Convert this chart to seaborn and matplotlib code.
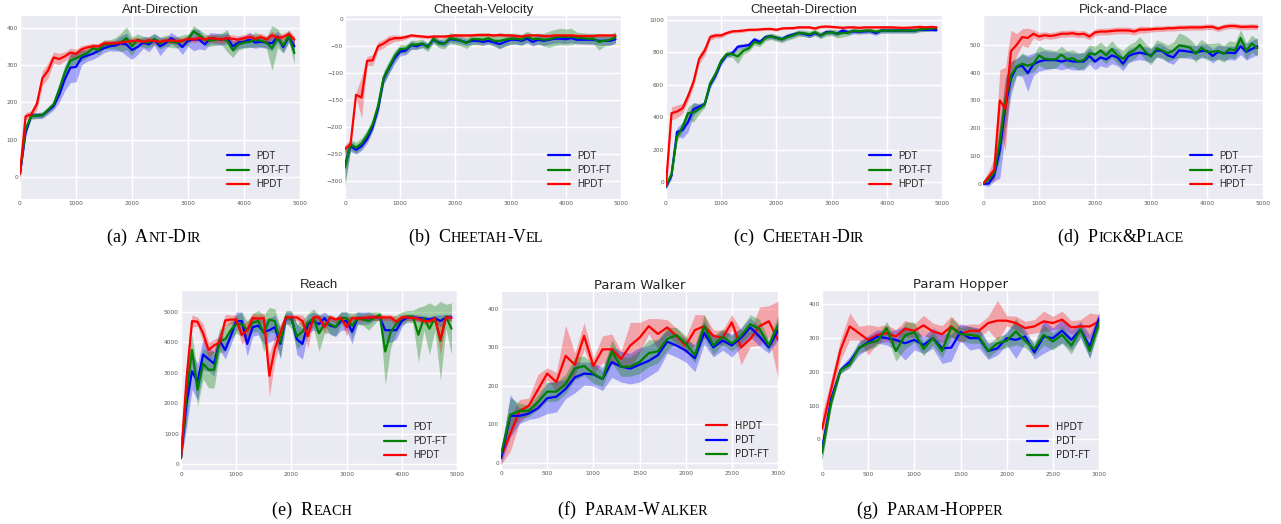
import numpy as np
import matplotlib
matplotlib.use("Agg")
import matplotlib.pyplot as plt
import seaborn as sns

# x positions (training steps)
steps_5k = np.arange(0, 5000, 100)
steps_3k = np.arange(0, 3100, 100)

# ---- Ant-Direction ----
ant_hpdt = [10, 163, 168, 195, 265, 285, 320, 316, 323, 333,
            330, 342, 347, 350, 350, 358, 358, 358, 360, 362,
            364, 366, 362, 366, 364, 362, 365, 366, 364, 365,
            370, 368, 372, 368, 372, 370, 368, 372, 370, 368,
            372, 375, 370, 375, 368, 380, 372, 375, 383, 368]
ant_pdt = [10, 120, 165, 165, 166, 178, 190, 220, 262, 293,
           295, 320, 325, 330, 338, 345, 350, 352, 358, 355,
           340, 348, 360, 355, 368, 350, 358, 372, 362, 348,
           365, 368, 368, 355, 372, 370, 368, 372, 350, 360,
           362, 368, 360, 362, 360, 358, 375, 348, 375, 350]
ant_pdtft = [10, 130, 163, 165, 166, 180, 195, 235, 280, 312,
             318, 325, 332, 345, 340, 355, 355, 358, 360, 372,
             350, 368, 362, 360, 370, 358, 365, 362, 360, 365,
             368, 390, 380, 368, 365, 368, 370, 365, 340, 355,
             360, 362, 368, 365, 360, 345, 372, 352, 378, 332]
ant_hpdt_sd = [25, 10, 10, 15, 20, 20, 15, 15, 12, 12,
               12, 10, 8, 8, 8, 8, 8, 8, 8, 8,
               8, 8, 8, 8, 8, 8, 8, 8, 8, 8,
               8, 8, 10, 10, 10, 10, 10, 10, 10, 10,
               10, 10, 10, 10, 10, 10, 10, 10, 10, 10]
ant_pdt_sd = [10, 10, 8, 8, 8, 10, 10, 20, 30, 40,
              40, 20, 15, 15, 15, 12, 12, 15, 20, 30,
              25, 20, 15, 20, 15, 25, 15, 15, 15, 20,
              15, 30, 25, 15, 15, 15, 15, 15, 15, 15,
              15, 20, 15, 15, 15, 20, 15, 15, 15, 20]
ant_pdtft_sd = [10, 10, 8, 8, 8, 8, 10, 15, 20, 15,
                15, 15, 12, 12, 12, 12, 12, 15, 25, 30,
                25, 15, 15, 15, 15, 15, 15, 15, 15, 15,
                15, 15, 15, 15, 15, 15, 15, 30, 20, 15,
                15, 15, 20, 15, 15, 60, 25, 20, 15, 30]

# ---- Cheetah-Velocity ----
vel_hpdt = [-240, -232, -140, -145, -77, -76, -50, -45, -38, -35,
            -35, -33, -30, -31, -32, -33, -32, -32, -32, -31,
            -30, -30, -30, -30, -29, -29, -29, -30, -29, -30,
            -30, -31, -32, -30, -30, -30, -31, -31, -30, -30,
            -30, -30, -31, -31, -31, -31, -30, -30, -30, -30]
vel_pdt = [-270, -235, -242, -235, -222, -200, -165, -110, -90, -72,
           -60, -58, -48, -50, -46, -50, -38, -43, -45, -37,
           -38, -40, -43, -40, -40, -42, -40, -43, -46, -42,
           -38, -38, -40, -36, -42, -38, -40, -38, -36, -36,
           -37, -35, -38, -38, -38, -38, -40, -40, -40, -37]
vel_pdtft = [-275, -232, -238, -230, -215, -195, -160, -108, -88, -68,
             -55, -55, -47, -47, -45, -52, -36, -45, -45, -35,
             -37, -40, -44, -37, -37, -38, -35, -40, -40, -38,
             -36, -36, -38, -32, -37, -36, -38, -37, -34, -32,
             -33, -32, -34, -35, -36, -36, -42, -40, -38, -33]
vel_hpdt_sd = [8, 8, 5, 38, 8, 10, 8, 8, 8, 6,
               5, 4, 3, 3, 3, 3, 3, 3, 3, 3,
               3, 3, 3, 3, 3, 3, 3, 3, 3, 3,
               3, 3, 3, 3, 3, 3, 3, 3, 3, 3,
               3, 3, 3, 3, 3, 3, 3, 3, 3, 3]
vel_pdt_sd = [30, 10, 8, 8, 8, 8, 10, 10, 10, 10,
              8, 8, 8, 6, 6, 6, 6, 6, 6, 6,
              6, 6, 6, 6, 6, 6, 6, 6, 8, 8,
              8, 8, 8, 8, 8, 8, 8, 8, 8, 8,
              8, 8, 8, 8, 8, 8, 8, 8, 8, 8]
vel_pdtft_sd = [35, 10, 10, 10, 10, 10, 10, 12, 12, 10,
                8, 8, 8, 8, 8, 8, 8, 8, 10, 10,
                10, 10, 10, 10, 10, 10, 10, 10, 15, 12,
                10, 10, 10, 10, 10, 10, 12, 15, 15, 15,
                15, 15, 10, 10, 10, 10, 15, 10, 10, 10]

# ---- Cheetah-Direction ----
dir_hpdt = [-20, 425, 435, 455, 530, 620, 760, 810, 895, 905,
            905, 920, 930, 932, 935, 940, 940, 942, 945, 945,
            940, 948, 950, 950, 955, 955, 955, 948, 958, 960,
            958, 955, 952, 955, 955, 952, 955, 955, 955, 955,
            955, 955, 953, 952, 953, 955, 958, 955, 958, 955]
dir_pdt = [-30, 40, 310, 320, 370, 450, 465, 480, 600, 660,
           740, 785, 795, 835, 840, 845, 880, 865, 895, 900,
           890, 882, 900, 910, 920, 915, 905, 920, 905, 925,
           925, 915, 935, 925, 930, 928, 930, 932, 920, 935,
           935, 935, 935, 935, 935, 935, 940, 940, 940, 938]
dir_pdtft = [-25, 50, 280, 340, 425, 430, 450, 480, 610, 670,
             750, 790, 790, 775, 810, 825, 865, 855, 890, 900,
             890, 880, 895, 905, 920, 918, 912, 925, 905, 920,
             925, 915, 920, 922, 935, 930, 935, 935, 928, 935,
             935, 935, 935, 935, 935, 935, 942, 945, 948, 950]
dir_hpdt_sd = [20, 40, 40, 30, 30, 30, 30, 30, 20, 15,
               15, 10, 10, 10, 10, 8, 8, 8, 8, 8,
               8, 8, 8, 8, 8, 8, 8, 8, 8, 8,
               8, 8, 8, 8, 8, 8, 8, 8, 8, 8,
               8, 8, 8, 8, 8, 8, 8, 8, 8, 8]
dir_pdt_sd = [15, 20, 25, 50, 60, 40, 20, 15, 20, 20,
              20, 15, 15, 15, 15, 15, 15, 15, 15, 15,
              15, 15, 15, 15, 15, 15, 15, 15, 15, 15,
              15, 15, 15, 15, 15, 15, 15, 15, 15, 15,
              15, 15, 15, 15, 15, 15, 10, 10, 10, 10]
dir_pdtft_sd = [15, 20, 25, 30, 40, 60, 30, 20, 20, 20,
                20, 20, 20, 45, 20, 20, 20, 20, 20, 20,
                20, 20, 20, 20, 20, 20, 20, 20, 20, 20,
                20, 25, 25, 20, 15, 15, 15, 15, 15, 15,
                15, 15, 15, 15, 15, 15, 15, 15, 15, 15]

# ---- Pick-and-Place ----
pick_hpdt = [0, 25, 50, 300, 270, 478, 500, 528, 525, 540,
             530, 535, 532, 535, 540, 540, 542, 538, 540, 530,
             545, 548, 548, 550, 552, 552, 552, 548, 555, 555,
             556, 558, 558, 560, 560, 562, 562, 563, 563, 563,
             565, 565, 558, 565, 568, 568, 565, 565, 566, 565]
pick_pdt = [0, 0, 30, 120, 280, 380, 420, 425, 398, 430,
            440, 445, 445, 445, 440, 445, 440, 440, 440, 460,
            440, 455, 448, 462, 455, 432, 460, 468, 472, 468,
            462, 480, 478, 462, 455, 480, 478, 475, 472, 478,
            478, 460, 475, 470, 472, 470, 495, 475, 485, 495]
pick_pdtft = [0, 15, 40, 150, 300, 390, 422, 432, 425, 432,
              462, 450, 448, 448, 465, 448, 452, 440, 445, 470,
              465, 480, 462, 485, 462, 450, 470, 480, 500, 475,
              458, 488, 480, 470, 480, 498, 495, 490, 468, 490,
              475, 475, 478, 468, 485, 480, 525, 478, 505, 488]
pick_hpdt_sd = [5, 20, 40, 110, 150, 75, 40, 30, 35, 15,
                15, 12, 12, 12, 12, 12, 12, 12, 12, 12,
                12, 12, 12, 12, 12, 12, 12, 12, 12, 12,
                10, 10, 10, 10, 10, 10, 10, 10, 10, 10,
                10, 10, 10, 10, 10, 10, 10, 10, 10, 10]
pick_pdt_sd = [5, 10, 20, 100, 100, 60, 30, 40, 65, 40,
               35, 35, 30, 30, 30, 30, 30, 30, 30, 30,
               30, 30, 30, 30, 30, 25, 25, 25, 25, 25,
               25, 25, 25, 25, 25, 25, 25, 25, 25, 25,
               25, 25, 25, 25, 25, 25, 30, 30, 30, 30]
pick_pdtft_sd = [5, 10, 20, 60, 80, 50, 30, 40, 30, 30,
                 35, 35, 35, 30, 30, 30, 30, 30, 30, 30,
                 30, 30, 30, 30, 30, 30, 30, 30, 30, 30,
                 30, 30, 30, 30, 30, 45, 40, 30, 30, 30,
                 30, 30, 30, 30, 30, 30, 30, 30, 30, 30]

# ---- Reach ----
reach_hpdt = [200, 2800, 4700, 4680, 4300, 3750, 3900, 4000, 4720, 4750,
              4750, 4250, 4400, 4800, 4780, 4800, 2900, 3800, 4300, 4820,
              4820, 4820, 4700, 4200, 4820, 4820, 4500, 4820, 4750, 4800,
              4500, 4800, 4780, 4800, 4820, 4820, 4820, 4820, 4820, 4680,
              4820, 4820, 4800, 4780, 4700, 4700, 4780, 4100, 4820, 4800]
reach_pdt = [200, 2000, 3050, 2700, 3600, 3450, 3300, 4050, 3750, 4200,
             4700, 4700, 3950, 4500, 4550, 4350, 4400, 4500, 3950, 4800,
             4800, 4100, 3950, 4600, 4700, 4600, 4800, 4550, 4500, 4700,
             4700, 4350, 4800, 4800, 4800, 4820, 4820, 4400, 4400, 4400,
             4700, 4820, 4820, 4800, 4780, 4750, 4800, 4700, 4820, 4820]
reach_pdtft = [200, 2300, 3750, 2450, 3300, 3100, 3100, 4050, 4100, 4400,
               4600, 4600, 4400, 4650, 4700, 4300, 4750, 4700, 4000, 4850,
               4750, 4200, 4350, 4650, 4800, 4300, 4600, 4600, 4500, 4800,
               4800, 4550, 4800, 4750, 4700, 4800, 4900, 3700, 4350, 4600,
               4800, 4850, 4850, 4250, 4800, 4450, 4800, 4050, 4850, 4450]
reach_hpdt_sd = [100, 600, 200, 150, 300, 250, 200, 200, 200, 150,
                 150, 300, 300, 150, 150, 150, 700, 400, 300, 100,
                 100, 100, 200, 400, 100, 100, 200, 100, 100, 100,
                 300, 100, 100, 100, 100, 100, 100, 100, 100, 150,
                 100, 100, 100, 100, 100, 100, 100, 500, 100, 100]
reach_pdt_sd = [100, 800, 600, 600, 500, 400, 400, 300, 300, 300,
                300, 300, 400, 300, 300, 400, 400, 400, 500, 200,
                200, 500, 500, 300, 300, 300, 200, 300, 300, 300,
                300, 400, 200, 200, 200, 100, 100, 400, 400, 300,
                200, 100, 100, 100, 100, 100, 100, 200, 100, 100]
reach_pdtft_sd = [100, 900, 500, 550, 500, 600, 600, 400, 400, 300,
                  300, 400, 300, 300, 350, 600, 400, 400, 500, 200,
                  300, 400, 400, 300, 300, 600, 300, 300, 300, 200,
                  200, 400, 200, 200, 300, 200, 100, 1100, 500, 300,
                  200, 200, 200, 900, 400, 850, 400, 1300, 400, 850]

# ---- Param Walker ----
walk_hpdt = [15, 75, 135, 148, 190, 232, 210, 278, 255, 330,
             252, 295, 295, 270, 305, 325, 355, 335, 352, 330,
             305, 345, 355, 330, 325, 365, 300, 322, 355, 368, 320]
walk_pdt = [12, 122, 122, 128, 142, 168, 172, 192, 222, 232,
            230, 218, 262, 250, 245, 255, 265, 280, 315, 305,
            292, 272, 338, 300, 318, 305, 325, 352, 328, 300, 345]
walk_pdtft = [22, 125, 135, 135, 158, 185, 185, 205, 245, 252,
              232, 218, 290, 250, 250, 262, 285, 290, 322, 332,
              310, 280, 355, 305, 328, 310, 330, 360, 348, 305, 358]
walk_hpdt_sd = [20, 45, 30, 20, 40, 15, 25, 80, 30, 35,
                20, 35, 40, 20, 60, 40, 20, 40, 20, 20,
                20, 40, 30, 15, 20, 20, 45, 20, 50, 40, 100]
walk_pdt_sd = [15, 55, 20, 15, 25, 40, 40, 25, 40, 30,
               30, 30, 40, 40, 40, 45, 40, 40, 30, 30,
               30, 35, 30, 25, 25, 30, 25, 25, 25, 15, 25]
walk_pdtft_sd = [15, 45, 20, 15, 20, 25, 25, 25, 30, 25,
                 25, 20, 30, 25, 25, 30, 35, 30, 30, 20,
                 20, 20, 30, 25, 20, 20, 20, 25, 25, 15, 25]

# ---- Param Hopper ----
hop_hpdt = [30, 150, 265, 335, 315, 295, 310, 315, 305, 328,
            322, 338, 320, 312, 335, 312, 322, 322, 345, 352,
            352, 345, 330, 335, 350, 345, 355, 332, 335, 335, 350]
hop_pdt = [-30, 120, 205, 230, 270, 288, 305, 300, 295, 285,
           295, 280, 300, 270, 272, 318, 300, 300, 262, 270,
           300, 295, 305, 258, 305, 300, 322, 295, 325, 275, 358]
hop_pdtft = [-40, 110, 205, 222, 272, 285, 292, 330, 262, 308,
             318, 268, 300, 262, 332, 312, 310, 305, 262, 285,
             292, 320, 292, 268, 310, 290, 310, 278, 325, 262, 345]
hop_hpdt_sd = [45, 30, 30, 40, 20, 45, 25, 25, 20, 25,
               20, 30, 25, 25, 30, 25, 20, 20, 20, 60,
               15, 20, 20, 20, 30, 20, 25, 20, 20, 40, 20]
hop_pdt_sd = [30, 20, 10, 15, 20, 20, 20, 20, 30, 50,
              30, 25, 30, 45, 40, 25, 35, 30, 25, 20,
              20, 55, 20, 20, 50, 30, 35, 30, 25, 35, 20]
hop_pdtft_sd = [25, 15, 10, 10, 15, 20, 15, 20, 30, 40,
                30, 20, 20, 20, 30, 20, 25, 20, 20, 20,
                20, 40, 20, 20, 30, 25, 25, 25, 20, 20, 20]

colors = {"PDT": "#0000ff", "PDT-FT": "#008000", "HPDT": "#ff0000"}
band_alpha = {"PDT": 0.3, "PDT-FT": 0.33, "HPDT": 0.3}
order_a = ["PDT", "PDT-FT", "HPDT"]
order_b = ["HPDT", "PDT", "PDT-FT"]

W, H = 1281, 524
panels = [
    dict(title="Ant-Direction", box=(20, 16, 300, 199), x=steps_5k, xlim=(0, 5000), xstep=1000,
         ylim=(-58, 431), yticks=np.arange(0, 401, 100), order=order_a, font="Liberation Sans",
         series={"PDT": (ant_pdt, ant_pdt_sd), "PDT-FT": (ant_pdtft, ant_pdtft_sd), "HPDT": (ant_hpdt, ant_hpdt_sd)}),
    dict(title="Cheetah-Velocity", box=(345, 16, 621, 199), x=steps_5k, xlim=(0, 5000), xstep=1000,
         ylim=(-333, 6), yticks=np.arange(-300, 1, 50), order=order_a, font="Liberation Sans",
         series={"PDT": (vel_pdt, vel_pdt_sd), "PDT-FT": (vel_pdtft, vel_pdtft_sd), "HPDT": (vel_hpdt, vel_hpdt_sd)}),
    dict(title="Cheetah-Direction", box=(666, 16, 942, 199), x=steps_5k, xlim=(0, 5000), xstep=1000,
         ylim=(-105, 1025), yticks=np.arange(0, 1001, 200), order=order_a, font="Liberation Sans",
         series={"PDT": (dir_pdt, dir_pdt_sd), "PDT-FT": (dir_pdtft, dir_pdtft_sd), "HPDT": (dir_hpdt, dir_hpdt_sd)}),
    dict(title="Pick-and-Place", box=(983, 16, 1263, 199), x=steps_5k, xlim=(0, 5000), xstep=1000,
         ylim=(-55, 604), yticks=np.arange(0, 501, 100), order=order_a, font="Liberation Sans",
         series={"PDT": (pick_pdt, pick_pdt_sd), "PDT-FT": (pick_pdtft, pick_pdtft_sd), "HPDT": (pick_hpdt, pick_hpdt_sd)}),
    dict(title="Reach", box=(181, 291, 457, 470), x=steps_5k, xlim=(0, 5000), xstep=1000,
         ylim=(-197, 5689), yticks=np.arange(0, 5001, 1000), order=order_a, font="Liberation Sans",
         series={"PDT": (reach_pdt, reach_pdt_sd), "PDT-FT": (reach_pdtft, reach_pdtft_sd), "HPDT": (reach_hpdt, reach_hpdt_sd)}),
    dict(title="Param Walker", box=(501, 292, 778, 469), x=steps_3k, xlim=(0, 3000), xstep=500,
         ylim=(-16, 444), yticks=np.arange(0, 401, 100), order=order_b, font="DejaVu Sans",
         series={"PDT": (walk_pdt, walk_pdt_sd), "PDT-FT": (walk_pdtft, walk_pdtft_sd), "HPDT": (walk_hpdt, walk_hpdt_sd)}),
    dict(title="Param Hopper", box=(822, 291, 1099, 470), x=steps_3k, xlim=(0, 3000), xstep=500,
         ylim=(-91, 440), yticks=np.arange(0, 401, 100), order=order_b, font="DejaVu Sans",
         series={"PDT": (hop_pdt, hop_pdt_sd), "PDT-FT": (hop_pdtft, hop_pdtft_sd), "HPDT": (hop_hpdt, hop_hpdt_sd)}),
]

# sub-captions in small caps: (text, font size) pieces
L, S = 13, 10.3
captions = [
    (154, 242, [("(a)  A", L), ("NT", S), ("-D", L), ("IR", S)]),
    (476, 242, [("(b)  C", L), ("HEETAH", S), ("-V", L), ("EL", S)]),
    (799, 242, [("(c)  C", L), ("HEETAH", S), ("-D", L), ("IR", S)]),
    (1121, 242, [("(d)  P", L), ("ICK", S), ("&P", L), ("LACE", S)]),
    (312, 515, [("(e)  R", L), ("EACH", S)]),
    (633, 515, [("(f)  P", L), ("ARAM", S), ("-W", L), ("ALKER", S)]),
    (930, 515, [("(g)  P", L), ("ARAM", S), ("-H", L), ("OPPER", S)]),
]

sns.set_style("darkgrid", {"axes.facecolor": "#eaeaf2", "grid.color": "white"})
fig = plt.figure(figsize=(W / 100, H / 100), dpi=100)

for p in panels:
    x0, y0, x1, y1 = p["box"]
    ax = fig.add_axes([x0 / W, 1 - y1 / H, (x1 - x0) / W, (y1 - y0) / H])
    for name in p["order"]:
        mean, sd = p["series"][name]
        mean = np.array(mean, dtype=float)
        sd = np.array(sd, dtype=float)
        sns.lineplot(x=p["x"], y=mean, color=colors[name], lw=1.6, label=name, ax=ax)
        ax.fill_between(p["x"], mean - sd, mean + sd, color=colors[name],
                        alpha=band_alpha[name], lw=0)
    ax.set_xlim(*p["xlim"])
    ax.set_ylim(*p["ylim"])
    ax.set_xticks(np.arange(p["xlim"][0], p["xlim"][1] + 1, p["xstep"]))
    ax.set_yticks(p["yticks"])
    ax.tick_params(labelsize=4.2, length=0, pad=1.5, labelcolor="0.35")
    ax.grid(True, color="white", lw=1)
    for s in ax.spines.values():
        s.set_visible(False)
    ax.set_title(p["title"], fontsize=9.5, pad=2.5, color="0.15", family=p["font"])
    leg = ax.legend(loc="lower right", fontsize=7, frameon=False, handlelength=2.2,
                    labelspacing=0.45, borderaxespad=0.6, handletextpad=0.8)
    for t in leg.get_texts():
        t.set_color("0.15")
        t.set_family(p["font"])

renderer = fig.canvas.get_renderer()
for cx, base, parts in captions:
    texts = [fig.text(0, 1 - base / H, s, fontsize=fs, family="Liberation Serif",
                      va="baseline", ha="left", color="black") for s, fs in parts]
    widths = [t.get_window_extent(renderer).width for t in texts]
    xpos = cx - sum(widths) / 2
    for t, w in zip(texts, widths):
        t.set_x(xpos / W)
        xpos += w

fig.savefig("out.png", dpi=100)
